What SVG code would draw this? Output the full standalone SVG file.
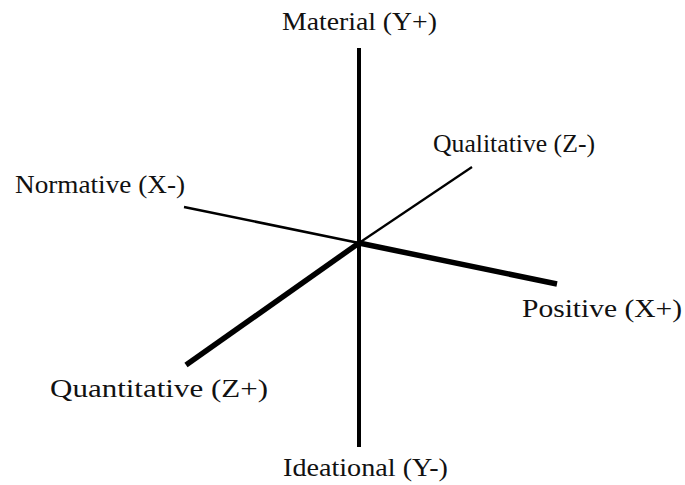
<svg xmlns="http://www.w3.org/2000/svg" width="685" height="485" viewBox="0 0 685 485">
<style>
.lbl{font-family:"Liberation Serif","DejaVu Serif",serif;font-size:26px;fill:#111}
.ax{stroke:#000;stroke-linecap:butt;fill:none}
</style>
<rect width="685" height="485" fill="#fff"/>
<g id="connectors">
<line class="ax" x1="359" y1="48" x2="359" y2="447" stroke-width="4"/>
<line class="ax" x1="359" y1="243" x2="472" y2="167" stroke-width="2.2"/>
<line class="ax" x1="184" y1="207" x2="359" y2="243" stroke-width="2.5"/>
<line class="ax" x1="359" y1="243" x2="557" y2="284" stroke-width="5.5"/>
<line class="ax" x1="359" y1="243" x2="186" y2="365" stroke-width="5.5"/>
</g>
<g id="material"><text class="lbl" x="282" y="30" textLength="155" lengthAdjust="spacingAndGlyphs">Material (Y+)</text></g>
<g id="qualitative"><text class="lbl" x="433" y="152" textLength="162" lengthAdjust="spacingAndGlyphs">Qualitative (Z-)</text></g>
<g id="normative"><text class="lbl" x="15" y="193" textLength="170" lengthAdjust="spacingAndGlyphs">Normative (X-)</text></g>
<g id="positive"><text class="lbl" x="522" y="317" textLength="160" lengthAdjust="spacingAndGlyphs">Positive (X+)</text></g>
<g id="quantitative"><text class="lbl" x="50" y="397" textLength="218" lengthAdjust="spacingAndGlyphs">Quantitative (Z+)</text></g>
<g id="ideational"><text class="lbl" x="283" y="476" textLength="165" lengthAdjust="spacingAndGlyphs">Ideational (Y-)</text></g>
</svg>
